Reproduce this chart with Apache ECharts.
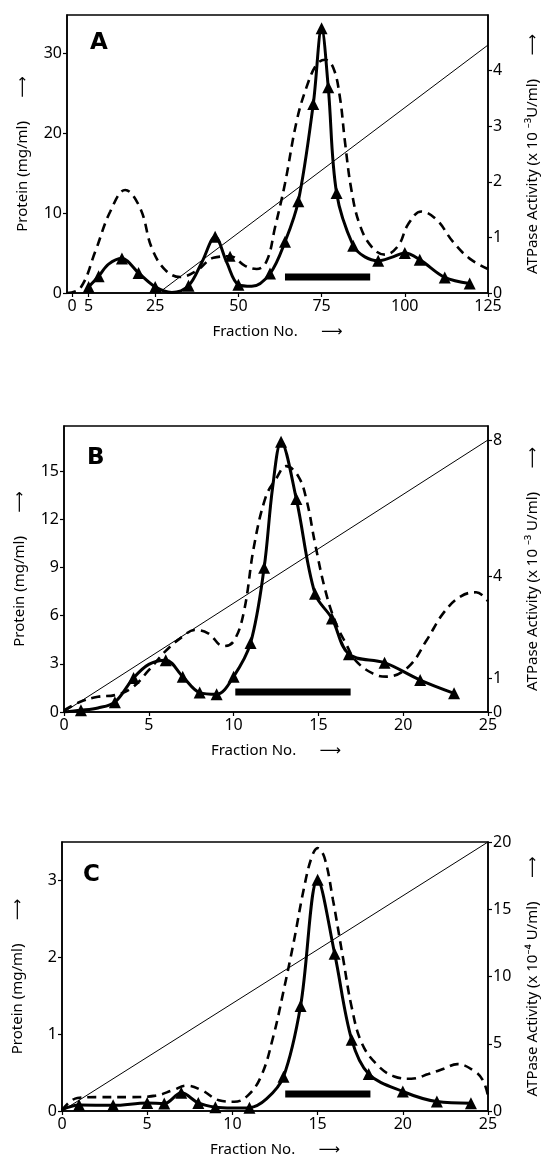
<!DOCTYPE html>
<html><head><meta charset="utf-8">
<script src="https://cdn.jsdelivr.net/npm/echarts@6/dist/echarts.min.js"></script>
<style>html,body{margin:0;padding:0;background:#fff}#c{width:548px;height:1158px}</style>
</head><body><div id="c"></div>
<script>
// ---------- Panel A ----------
const A_X_TICKS = [0, 5, 25, 50, 75, 100, 125];
const A_PROT_TICKS = [0, 10, 20, 30];
const A_ACT_TICKS = [0, 1, 2, 3, 4];
const A_PROT_X = [-1.5, 2.5, 7, 11.5, 16, 20.5, 24, 28, 32.5, 37.5, 42.5, 47.5, 52, 55.5, 58.5, 61, 64, 67.5, 70.5, 73.5, 76, 78.5, 80.5, 82, 84, 86.5, 90, 94, 98, 101, 105, 109.5, 114.5, 119.5, 125];
const A_PROT_Y = [0, 0.6, 5.2, 10.2, 12.9, 10.6, 5.6, 2.9, 2.0, 2.8, 4.4, 4.6, 3.4, 3.0, 4.0, 8.2, 13.7, 21.5, 25.8, 28.6, 29.2, 28.2, 24.5, 19.0, 12.8, 8.5, 5.8, 4.8, 5.9, 8.6, 10.2, 9.2, 6.4, 4.3, 3.0];
const A_PROT_MARK = [0,0,0,0,0,0,0,0,0,0,0,1,0,0,0,0,0,0,0,0,0,0,0,0,0,0,0,0,0,0,0,0,0,0,0];
const A_ACT_X = [5, 8, 11, 15, 20, 25, 30, 35, 39, 43, 46.5, 50, 54, 59.5, 64, 68, 72.5, 75, 77, 79.5, 84.5, 88, 92, 96, 100, 104.5, 112, 119.5];
const A_ACT_Y = [0.11, 0.3, 0.52, 0.62, 0.36, 0.11, 0.01, 0.13, 0.55, 1.01, 0.55, 0.15, 0.12, 0.35, 0.92, 1.65, 3.4, 4.76, 3.7, 1.8, 0.85, 0.65, 0.58, 0.64, 0.72, 0.6, 0.28, 0.17];
const A_ACT_MARK = [1,1,0,1,1,1,0,1,0,1,0,1,0,1,1,1,1,1,1,1,1,0,1,0,1,1,1,1];
const A_GRAD_X = [26, 125];
const A_GRAD_Y = [0, 4.46];
const A_POOL_X = [64, 89.6];
const A_POOL_Y = [2.0, 2.0];

// ---------- Panel B ----------
const B_X_TICKS = [0, 5, 10, 15, 20, 25];
const B_PROT_TICKS = [0, 3, 6, 9, 12, 15];
const B_ACT_TICKS = [0, 1, 4, 8];
const B_PROT_X = [0, 1, 2, 3, 4, 5, 6, 7, 7.7, 8.5, 9.4, 10, 10.6, 11.2, 11.9, 12.5, 13.1, 13.8, 14.3, 14.8, 15.4, 16, 16.6, 17.2, 18.2, 19.0, 20.3, 21.4, 22.4, 23.4, 24.3, 25];
const B_PROT_Y = [0.1, 0.65, 0.95, 1.05, 1.5, 2.6, 3.8, 4.7, 5.1, 4.9, 4.1, 4.4, 6.2, 10.3, 13.4, 14.5, 15.3, 14.7, 13.2, 10.5, 7.6, 5.6, 4.3, 3.2, 2.4, 2.2, 2.8, 4.5, 6.2, 7.2, 7.45, 6.9];
const B_ACT_X = [0, 1, 2, 3, 4.1, 5, 6, 7, 8, 9, 10, 11, 11.8, 12.3, 12.8, 13.7, 14.8, 15.8, 16.8, 18.9, 21, 23];
const B_ACT_Y = [0.0, 0.05, 0.12, 0.29, 1.0, 1.4, 1.52, 1.04, 0.57, 0.52, 1.04, 2.03, 4.24, 6.6, 7.95, 6.26, 3.48, 2.75, 1.7, 1.45, 0.94, 0.55];
const B_ACT_MARK = [0,1,0,1,1,0,1,1,1,1,1,1,1,0,1,1,1,1,1,1,1,1];
const B_GRAD_X = [0, 25];
const B_GRAD_Y = [0, 8];
const B_POOL_X = [10.1, 16.9];
const B_POOL_Y = [1.25, 1.25];

// ---------- Panel C ----------
const C_X_TICKS = [0, 5, 10, 15, 20, 25];
const C_PROT_TICKS = [0, 1, 2, 3];
const C_ACT_TICKS = [0, 5, 10, 15, 20];
const C_PROT_X = [0, 0.9, 2, 4, 5.5, 6.5, 7.3, 8.2, 9.2, 10.1, 10.9, 11.7, 12.4, 13, 13.6, 14.2, 14.65, 15.0, 15.4, 15.9, 16.5, 17.0, 17.6, 18.5, 19.5, 20.5, 21.5, 22.4, 23.2, 24.2, 24.7, 25];
const C_PROT_Y = [0.01, 0.17, 0.18, 0.18, 0.2, 0.27, 0.33, 0.27, 0.14, 0.12, 0.2, 0.46, 0.97, 1.56, 2.2, 2.9, 3.3, 3.42, 3.3, 2.75, 1.98, 1.35, 0.88, 0.6, 0.45, 0.42, 0.48, 0.55, 0.61, 0.52, 0.4, 0.2];
const C_ACT_X = [0, 1, 3, 5, 6, 7, 8, 9, 10, 11, 12, 13, 14, 15, 16, 17, 18, 20, 22, 24];
const C_ACT_Y = [0.1, 0.45, 0.42, 0.6, 0.55, 1.35, 0.6, 0.28, 0.22, 0.25, 0.9, 2.55, 7.8, 17.2, 11.7, 5.3, 2.75, 1.45, 0.7, 0.58];
const C_ACT_MARK = [0,1,1,1,1,1,1,1,0,1,0,1,1,1,1,1,1,1,1,1];
const C_GRAD_X = [0, 25];
const C_GRAD_Y = [0, 20];
const C_POOL_X = [13.1, 18.1];
const C_POOL_Y = [0.22, 0.22];

const LETTERS = ['A', 'B', 'C'];
const X_NAME = 'Fraction No.      ⟶';
const LEFT_NAME = 'Protein (mg/ml)      ⟶';
const RIGHT_NAMES = ['ATPase Activity (x 10 ⁻³U/ml)      ⟶', 'ATPase Activity (x 10 ⁻³ U/ml)      ⟶', 'ATPase Activity (x 10⁻⁴ U/ml)      ⟶'];

const FONT = '"Noto Sans", "DejaVu Sans", sans-serif';
const BLACK = '#000';

const panels = [
  {grid:{left:67, top:15, width:431, height:278}, xMin:-1.5, xMax:125, xTicks:A_X_TICKS,
   pMax:34.8, pTicks:A_PROT_TICKS, aMax:5.0, aTicks:A_ACT_TICKS,
   prot:[A_PROT_X, A_PROT_Y, A_PROT_MARK], act:[A_ACT_X, A_ACT_Y, A_ACT_MARK],
   grad:[A_GRAD_X, A_GRAD_Y], pool:[A_POOL_X, A_POOL_Y], letterPos:[90, 32]},
  {grid:{left:64, top:426, width:429, height:286}, xMin:0, xMax:25, xTicks:B_X_TICKS,
   pMax:17.8, pTicks:B_PROT_TICKS, aMax:8.41, aTicks:B_ACT_TICKS,
   prot:[B_PROT_X, B_PROT_Y, null], act:[B_ACT_X, B_ACT_Y, B_ACT_MARK],
   grad:[B_GRAD_X, B_GRAD_Y], pool:[B_POOL_X, B_POOL_Y], letterPos:[87, 447]},
  {grid:{left:62, top:842, width:430, height:276}, xMin:0, xMax:25, xTicks:C_X_TICKS,
   pMax:3.5, pTicks:C_PROT_TICKS, aMax:20, aTicks:C_ACT_TICKS,
   prot:[C_PROT_X, C_PROT_Y, null], act:[C_ACT_X, C_ACT_Y, C_ACT_MARK],
   grad:[C_GRAD_X, C_GRAD_Y], pool:[C_POOL_X, C_POOL_Y], letterPos:[83, 864]}
];

function pts(xs, ys, marks) {
  return xs.map((x, i) => ({value:[x, ys[i]], symbol: (marks && marks[i]) ? 'triangle' : 'none'}));
}

const option = {animation:false, backgroundColor:'#fff', grid:[], xAxis:[], yAxis:[], series:[], graphic:[]};
const axisLine = {show:true, onZero:false, lineStyle:{color:BLACK, width:1.5}};
const labelStyle = {color:BLACK, fontFamily:FONT, fontSize:16};
const nameStyle = {color:BLACK, fontFamily:FONT, fontSize:15};

panels.forEach((p, i) => {
  option.grid.push(Object.assign({show:true, borderColor:BLACK, borderWidth:1.5, backgroundColor:'transparent'}, p.grid));
  option.xAxis.push({type:'value', gridIndex:i, min:p.xMin, max:p.xMax,
    name:X_NAME, nameLocation:'middle', nameGap:31, nameTextStyle:nameStyle,
    axisLine:axisLine, splitLine:{show:false},
    axisTick:{show:true, length:4, lineStyle:{color:BLACK, width:1.2}, customValues:p.xTicks},
    axisLabel:Object.assign({customValues:p.xTicks, margin:5}, labelStyle)});
  option.yAxis.push({type:'value', gridIndex:i, position:'left', min:0, max:p.pMax,
    name:LEFT_NAME, nameLocation:'middle', nameGap:37, nameRotate:90, nameTextStyle:nameStyle,
    axisLine:axisLine, splitLine:{show:false},
    axisTick:{show:true, length:4, lineStyle:{color:BLACK, width:1.2}, customValues:p.pTicks},
    axisLabel:Object.assign({customValues:p.pTicks, margin:5}, labelStyle)});
  option.yAxis.push({type:'value', gridIndex:i, position:'right', min:0, max:p.aMax,
    name:RIGHT_NAMES[i], nameLocation:'middle', nameGap:37, nameRotate:90, nameTextStyle:nameStyle,
    axisLine:axisLine, splitLine:{show:false},
    axisTick:{show:true, length:4, lineStyle:{color:BLACK, width:1.2}, customValues:p.aTicks},
    axisLabel:Object.assign({customValues:p.aTicks, margin:5}, labelStyle)});
  const yl = i * 2, yr = i * 2 + 1;
  // gradient line
  option.series.push({type:'line', xAxisIndex:i, yAxisIndex:yr, symbol:'none',
    lineStyle:{color:BLACK, width:1}, data:p.grad[0].map((x, k) => [x, p.grad[1][k]])});
  // pooled fractions bar
  option.series.push({type:'line', xAxisIndex:i, yAxisIndex:yl, symbol:'none',
    lineStyle:{color:BLACK, width:7, cap:'butt'}, data:p.pool[0].map((x, k) => [x, p.pool[1][k]])});
  // protein (dashed)
  option.series.push({type:'line', xAxisIndex:i, yAxisIndex:yl, smooth:0.4,
    symbolSize:11, itemStyle:{color:BLACK}, showSymbol:true,
    lineStyle:{color:BLACK, width:2.6, type:[9, 6]}, data:pts(p.prot[0], p.prot[1], p.prot[2])});
  // ATPase activity (solid with triangles)
  option.series.push({type:'line', xAxisIndex:i, yAxisIndex:yr, smooth:0.35,
    symbolSize:12, itemStyle:{color:BLACK}, showSymbol:true,
    lineStyle:{color:BLACK, width:3}, data:pts(p.act[0], p.act[1], p.act[2])});
  option.graphic.push({type:'text', left:p.letterPos[0], top:p.letterPos[1],
    style:{text:LETTERS[i], font:'bold 23px "DejaVu Sans", sans-serif', fill:BLACK}});
});

const chart = echarts.init(document.getElementById('c'), null, {renderer:'canvas'});
chart.setOption(option);
</script></body></html>
